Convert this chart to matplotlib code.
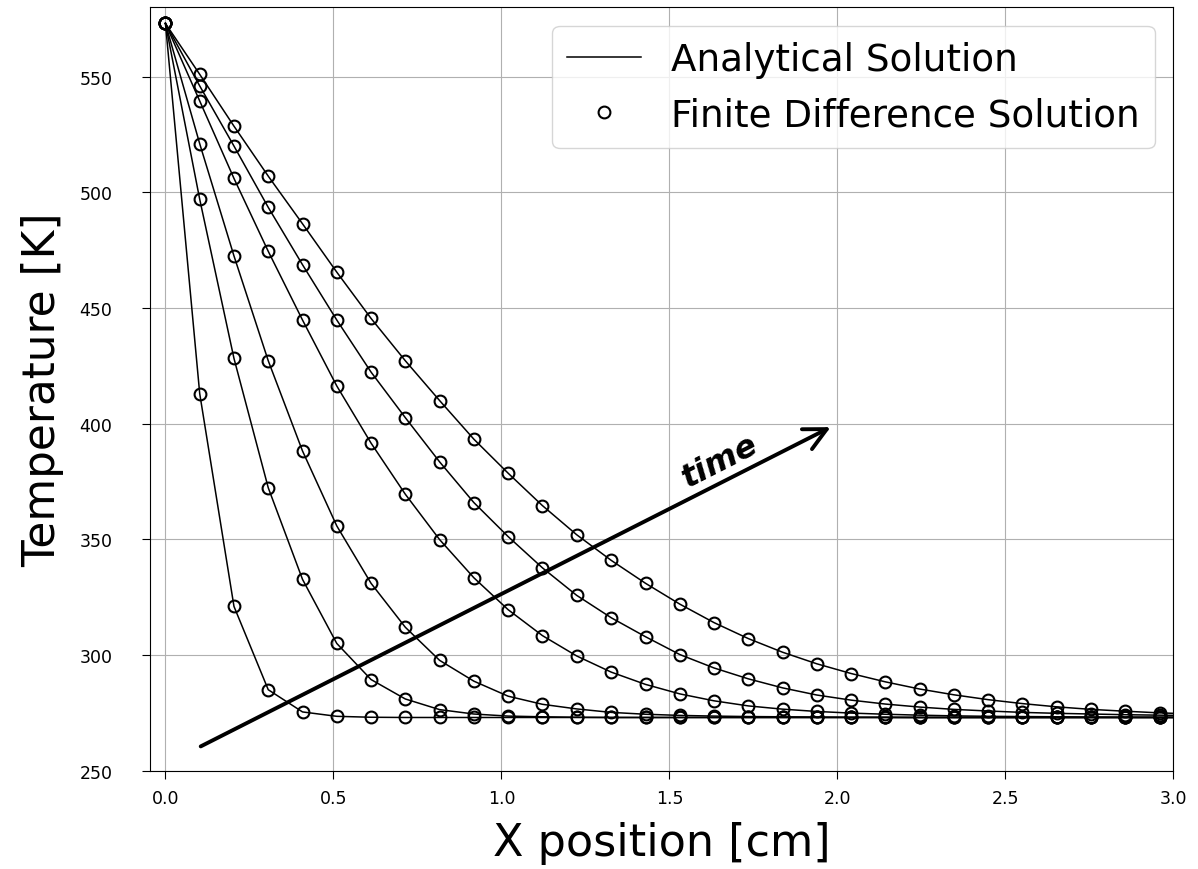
import matplotlib.pyplot as plt

# node positions [cm]
x_cm = [0.000, 0.102, 0.204, 0.306, 0.408, 0.510, 0.612, 0.714, 0.816, 0.918,
        1.020, 1.122, 1.224, 1.327, 1.429, 1.531, 1.633, 1.735, 1.837, 1.939,
        2.041, 2.143, 2.245, 2.347, 2.449, 2.551, 2.653, 2.755, 2.857, 2.959,
        3.061]

# temperature profiles [K], latest time first
T_t6 = [573, 551.0, 528.6, 507.0, 486.4, 465.5, 445.5, 427.2, 410.0, 393.3,
        378.6, 364.6, 352.0, 340.9, 331.0, 322.0, 314.0, 307.1, 301.2, 296.2,
        292.0, 288.4, 285.3, 282.8, 280.7, 279.0, 277.6, 276.5, 275.7, 275.0,
        274.5]
T_t5 = [573, 546.0, 520.0, 493.5, 468.7, 444.8, 422.3, 402.6, 383.5, 365.9,
        351.2, 337.7, 325.8, 316.1, 307.9, 300.2, 294.4, 289.7, 285.8, 282.7,
        280.5, 278.8, 277.5, 276.5, 275.8, 275.2, 274.8, 274.5, 274.2, 274.0,
        273.8]
T_t4 = [573, 539.5, 506.0, 474.5, 444.8, 416.3, 391.6, 369.5, 349.9, 333.4,
        319.6, 308.4, 299.6, 292.6, 287.3, 283.2, 280.2, 278.0, 276.6, 275.6,
        274.9, 274.4, 274.0, 273.7, 273.5, 273.4, 273.3, 273.2, 273.1, 273.1,
        273.1]
T_t3 = [573, 521.0, 472.5, 427.2, 388.2, 355.8, 331.0, 312.0, 297.7, 288.7,
        282.2, 278.7, 276.7, 275.2, 274.4, 273.9, 273.6, 273.4, 273.3, 273.2,
        273.1, 273.1, 273.0, 273.0, 273.0, 273.0, 273.0, 273.0, 273.0, 273.0,
        273.0]
T_t2 = [573, 497.0, 428.2, 372.3, 332.7, 305.0, 289.4, 281.0, 276.4, 274.5,
        273.6, 273.3, 273.1, 273.0, 273.0, 273.0, 273.0, 273.0, 273.0, 273.0,
        273.0, 273.0, 273.0, 273.0, 273.0, 273.0, 273.0, 273.0, 273.0, 273.0,
        273.0]
T_t1 = [573, 413.0, 321.0, 285.0, 275.4, 273.5, 273.1, 273.0, 273.0, 273.0,
        273.0, 273.0, 273.0, 273.0, 273.0, 273.0, 273.0, 273.0, 273.0, 273.0,
        273.0, 273.0, 273.0, 273.0, 273.0, 273.0, 273.0, 273.0, 273.0, 273.0,
        273.0]

profiles = [T_t1, T_t2, T_t3, T_t4, T_t5, T_t6]

fig = plt.figure(figsize=(11.98, 8.70), dpi=100)
ax = fig.add_axes([0.1252, 0.113, 0.8542, 0.8775])

for i, T in enumerate(profiles):
    ax.plot(x_cm, T, "-", color="black", lw=1.1,
            label="Analytical Solution" if i == 0 else None)
for i, T in enumerate(profiles):
    ax.plot(x_cm, T, "o", mfc="none", mec="black", ms=8.5, mew=1.5,
            label="Finite Difference Solution" if i == 0 else None)

ax.annotate("", xy=(1.98, 398.5), xytext=(0.105, 260.5),
            arrowprops=dict(arrowstyle="->", lw=2.8, color="black",
                            mutation_scale=40, shrinkA=0, shrinkB=0))
ax.text(1.65, 384.0, "time", fontsize=23, fontweight="bold", fontstyle="italic",
        rotation=27, ha="center", va="center", rotation_mode="anchor")

ax.set_xlim(-0.046, 3.0)
ax.set_ylim(250, 580)
ax.set_xticks([0.0, 0.5, 1.0, 1.5, 2.0, 2.5, 3.0])
ax.set_yticks([250, 300, 350, 400, 450, 500, 550])
ax.tick_params(labelsize=12.5, length=6)
ax.tick_params(axis="x", pad=7.5)
ax.tick_params(axis="y", pad=21)
ax.set_xlabel("X position [cm]", fontsize=32, labelpad=10)
ax.set_ylabel("Temperature [K]", fontsize=31.5, labelpad=11)
ax.grid(True)
ax.legend(loc="upper right", fontsize=26.8)

fig.savefig("out.png", dpi=100)
plt.close(fig)
